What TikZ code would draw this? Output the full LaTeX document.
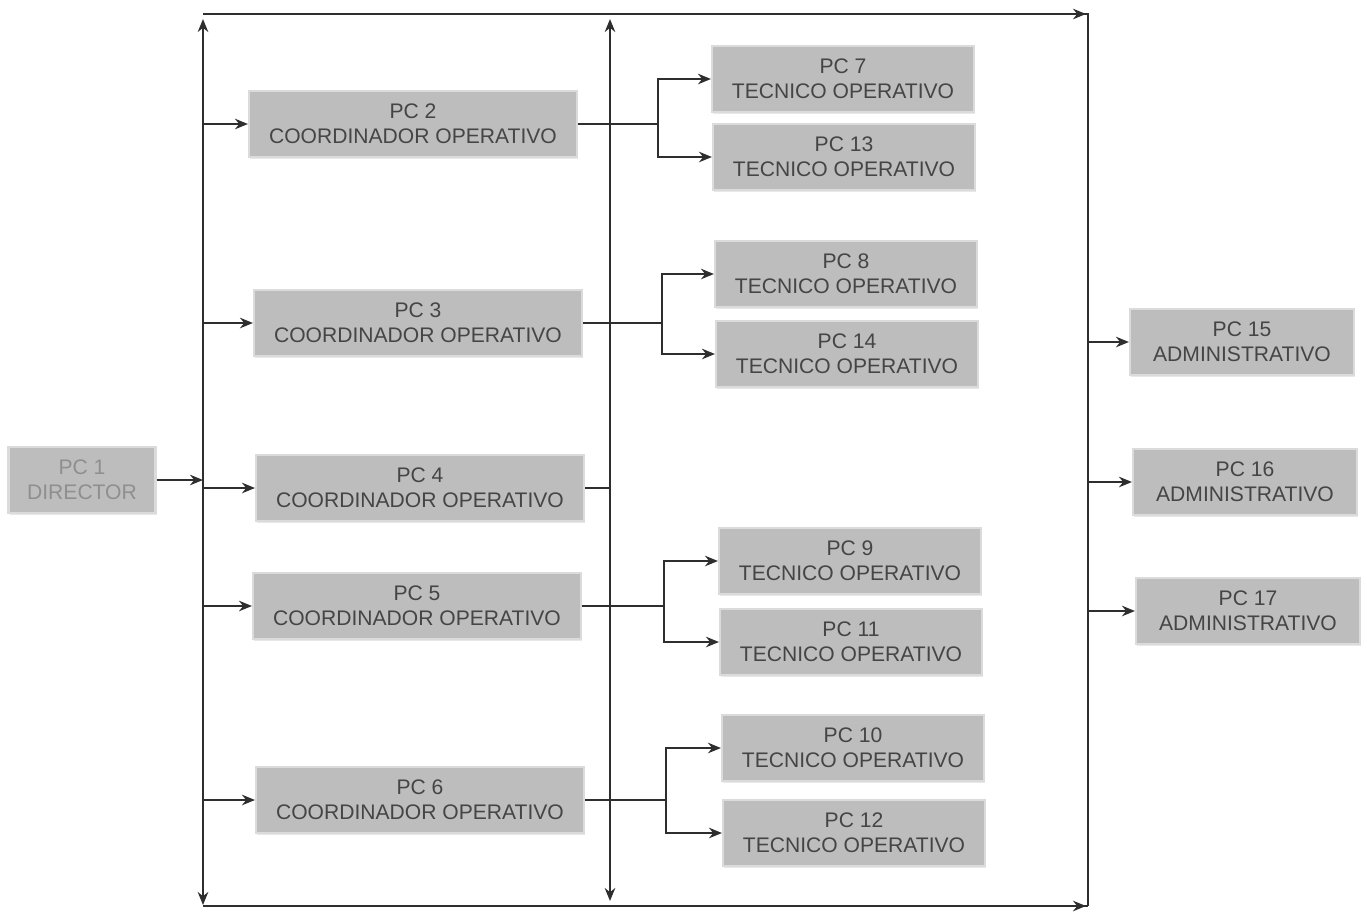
\documentclass[tikz,border=0pt]{standalone}
\usepackage{fontspec}
\setmainfont{Liberation Sans}
\usepackage{tikz}
\usetikzlibrary{arrows.meta,calc,shadows}
\definecolor{LineGray}{rgb}{0.18,0.18,0.18}
\definecolor{BoxGray}{rgb}{0.74,0.74,0.74}
\definecolor{TextGray}{rgb}{0.27,0.27,0.27}

\tikzset{
    pcbox/.style={fill=BoxGray, draw=BoxGray!55, line width=1.2pt, minimum height=1.32cm, align=center, text=TextGray,
        font=\fontsize{12}{14}\selectfont, inner sep=2pt,
        drop shadow={opacity=0.18, shadow xshift=0.8pt, shadow yshift=-1.2pt}},
    coord/.style={pcbox, minimum width=6.56cm},
    tecn/.style={pcbox, minimum width=5.24cm},
    admin/.style={pcbox, minimum width=4.48cm},
    bus/.style={LineGray, line width=1.3pt},
    arr/.style={LineGray, line width=1.3pt, -{Stealth[length=2.6mm,width=2.1mm]}}
}

\begin{document}
\begin{tikzpicture}[x=0.02cm,y=-0.02cm]
    \useasboundingbox (0,0) rectangle (1367,914);
    %%Bus corners
    \coordinate (lt) at (203,14);
    \coordinate (lb) at (203,906);
    \coordinate (mt) at (610,14);
    \coordinate (mb) at (610,906);
    \coordinate (rt) at (1088,14);
    \coordinate (rb) at (1088,906);
    %%Director
    \node[pcbox, minimum width=2.94cm, text=TextGray!60] (pc1) at (82,480) {PC 1\\DIRECTOR};
    %%Coordinators
    \node[coord] (pc2) at (413,124) {PC 2\\COORDINADOR OPERATIVO};
    \node[coord] (pc3) at (418,323) {PC 3\\COORDINADOR OPERATIVO};
    \node[coord] (pc4) at (420,488) {PC 4\\COORDINADOR OPERATIVO};
    \node[coord] (pc5) at (417,606) {PC 5\\COORDINADOR OPERATIVO};
    \node[coord] (pc6) at (420,800) {PC 6\\COORDINADOR OPERATIVO};
    %%Technicians
    \node[tecn] (pc7)  at (843,79)  {PC 7\\TECNICO OPERATIVO};
    \node[tecn] (pc13) at (844,157) {PC 13\\TECNICO OPERATIVO};
    \node[tecn] (pc8)  at (846,274) {PC 8\\TECNICO OPERATIVO};
    \node[tecn] (pc14) at (847,354) {PC 14\\TECNICO OPERATIVO};
    \node[tecn] (pc9)  at (850,561) {PC 9\\TECNICO OPERATIVO};
    \node[tecn] (pc11) at (851,642) {PC 11\\TECNICO OPERATIVO};
    \node[tecn] (pc10) at (853,748) {PC 10\\TECNICO OPERATIVO};
    \node[tecn] (pc12) at (854,833) {PC 12\\TECNICO OPERATIVO};
    %%Administration
    \node[admin] (pc15) at (1242,342) {PC 15\\ADMINISTRATIVO};
    \node[admin] (pc16) at (1245,482) {PC 16\\ADMINISTRATIVO};
    \node[admin] (pc17) at (1248,611) {PC 17\\ADMINISTRATIVO};
    %%Split points
    \coordinate (s2) at (658,0);
    \coordinate (s3) at (662,0);
    \coordinate (s5) at (664,0);
    \coordinate (s6) at (666,0);

    %%Buses
    \draw[bus] (lt) -- (rt) -- (rb);
    \draw[bus] (lb) -- (rb);
    \draw[arr] (pc1.east -| lt) -- ($(lt)+(0,5)$);
    \draw[arr] (pc1.east -| lt) -- ($(lb)+(0,-1)$);
    \draw[arr] (pc4.east -| mt) -- ($(mt)+(0,5)$);
    \draw[arr] (pc4.east -| mt) -- ($(mb)+(0,-5)$);
    \draw[arr] (lt) -- ($(rt)+(-2,0)$);
    \draw[arr] (lb) -- ($(rb)+(-2,0)$);
    %%Director
    \draw[arr] (pc1.east) -- (pc1.east -| lt);
    %%Coordinators
    \foreach \c in {pc2,pc3,pc4,pc5,pc6}
        \draw[arr] (\c.west -| lt) -- (\c.west);
    \draw[bus] (pc4.east) -- (pc4.east -| mt);
    \draw[bus] (pc2.east) -- (pc2.east -| s2);
    \draw[arr] (pc2.east -| s2) |- (pc7.west);
    \draw[arr] (pc2.east -| s2) |- (pc13.west);
    \draw[bus] (pc3.east) -- (pc3.east -| s3);
    \draw[arr] (pc3.east -| s3) |- (pc8.west);
    \draw[arr] (pc3.east -| s3) |- (pc14.west);
    \draw[bus] (pc5.east) -- (pc5.east -| s5);
    \draw[arr] (pc5.east -| s5) |- (pc9.west);
    \draw[arr] (pc5.east -| s5) |- (pc11.west);
    \draw[bus] (pc6.east) -- (pc6.east -| s6);
    \draw[arr] (pc6.east -| s6) |- (pc10.west);
    \draw[arr] (pc6.east -| s6) |- (pc12.west);
    %%Administration
    \foreach \a in {pc15,pc16,pc17}
        \draw[arr] (\a.west -| rt) -- (\a.west);
\end{tikzpicture}
\end{document}
